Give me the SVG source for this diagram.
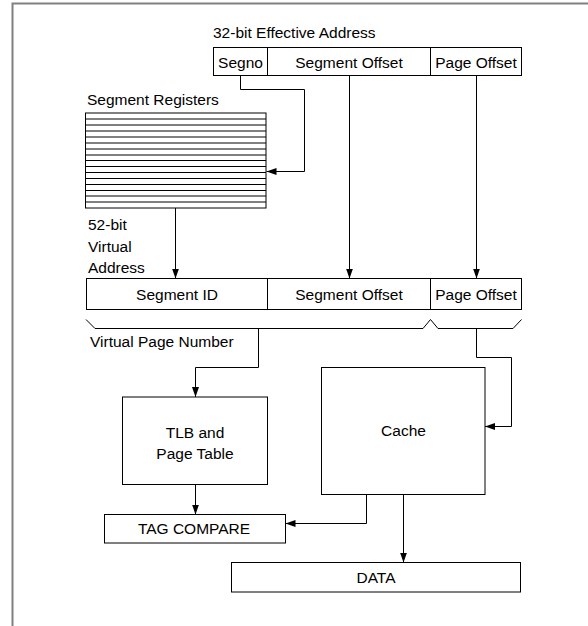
<svg xmlns="http://www.w3.org/2000/svg" width="588" height="626" viewBox="0 0 588 626">
<defs>
<marker id="ah" markerUnits="userSpaceOnUse" markerWidth="11" markerHeight="8" refX="10" refY="3.5" orient="auto">
<path d="M0,0 L10,3.5 L0,7 z" fill="#000"/>
</marker>
<style>
text{font-family:"Liberation Sans",Arial,sans-serif;font-size:15.5px;fill:#000}
.c{text-anchor:middle}
.box{fill:#fff;stroke:#000;stroke-width:1}
.ln{fill:none;stroke:#000;stroke-width:1}
.conn path{fill:none;stroke:#000;stroke-width:1}
.arr{marker-end:url(#ah)}
</style>
</defs>
<rect width="588" height="626" fill="#fff"/>
<path d="M12.5,626 V3.5 H588" fill="none" stroke="#808080" stroke-width="2"/>

<g id="effective-address">
<text x="213" y="38">32-bit Effective Address</text>
<rect class="box" x="213.5" y="47.5" width="308" height="28"/>
<path class="ln" d="M267.5,47.5 V75.5 M430.5,47.5 V75.5"/>
<text class="c" x="240.5" y="68">Segno</text>
<text class="c" x="349" y="68">Segment Offset</text>
<text class="c" x="476" y="68">Page Offset</text>
</g>

<g id="segment-registers">
<text x="87" y="105">Segment Registers</text>
<rect class="box" x="85.5" y="113" width="180.5" height="95"/>
<path class="ln" d="M85.5,119 H266 M85.5,125 H266 M85.5,131 H266 M85.5,137 H266 M85.5,143 H266 M85.5,149 H266 M85.5,155 H266 M85.5,160.5 H266 M85.5,166.5 H266 M85.5,172.5 H266 M85.5,178.5 H266 M85.5,184.5 H266 M85.5,190.5 H266 M85.5,196 H266 M85.5,202 H266"/>
</g>

<g id="virtual-address-label">
<text x="88" y="230">52-bit</text>
<text x="88" y="252">Virtual</text>
<text x="88" y="273">Address</text>
</g>

<g id="virtual-address">
<rect class="box" x="86.5" y="278.5" width="435" height="31"/>
<path class="ln" d="M267.5,278.5 V309.5 M430.5,278.5 V309.5"/>
<text class="c" x="177" y="299.5">Segment ID</text>
<text class="c" x="349" y="299.5">Segment Offset</text>
<text class="c" x="476" y="299.5">Page Offset</text>
</g>

<g id="brace">
<path class="ln" d="M86,319.5 L95,328.5 H423 L430.5,319.5 L438,328.5 H513 L521.5,319.5"/>
<text x="90" y="347">Virtual Page Number</text>
</g>

<g id="tlb">
<rect class="box" x="122.5" y="397" width="145" height="87.5"/>
<text class="c" x="195" y="437.5">TLB and</text>
<text class="c" x="195" y="458.5">Page Table</text>
</g>

<g id="cache">
<rect class="box" x="321.5" y="367.5" width="163.5" height="127"/>
<text class="c" x="403.5" y="436">Cache</text>
</g>

<g id="tag-compare">
<rect class="box" x="104.5" y="514.5" width="181" height="28.5"/>
<text class="c" x="194" y="533.5">TAG COMPARE</text>
</g>

<g id="data">
<rect class="box" x="231.5" y="562.5" width="289" height="29.5"/>
<text class="c" x="376" y="583">DATA</text>
</g>

<g class="conn" id="connectors">
<path class="arr" d="M240.5,75.5 V89.5 H304.5 V171.5 H266.5"/>
<path class="arr" d="M349.5,75.5 V278.5"/>
<path class="arr" d="M476.5,75.5 V278.5"/>
<path class="arr" d="M175.5,208 V278.5"/>
<path class="arr" d="M258.5,328.5 V367.5 H195.5 V397"/>
<path class="arr" d="M476.5,328.5 V357.5 H511.5 V426.5 H485"/>
<path class="arr" d="M195.5,484.5 V514.5"/>
<path class="arr" d="M366.5,494.5 V523.5 H285.5"/>
<path class="arr" d="M403.5,494.5 V562.5"/>
</g>
</svg>
